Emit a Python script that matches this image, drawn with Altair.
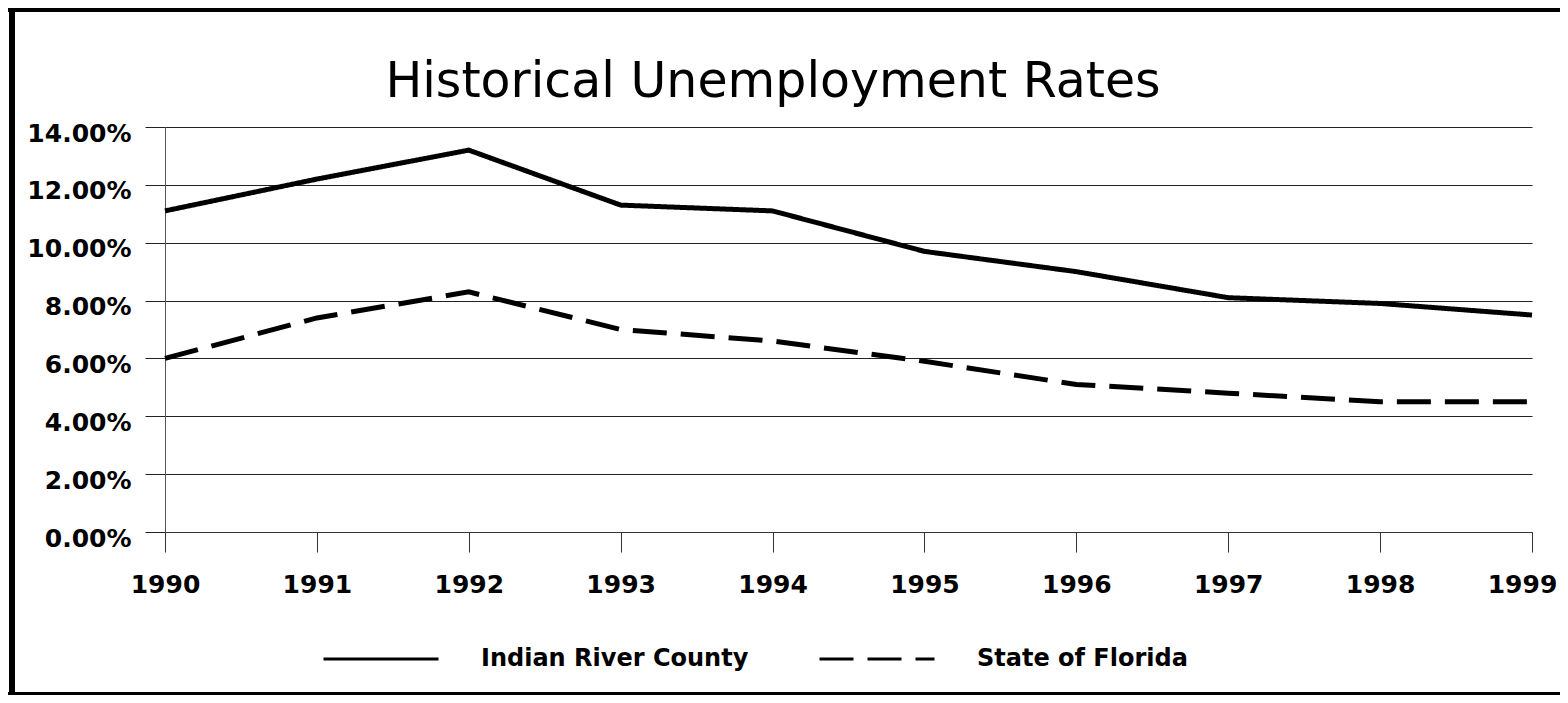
import altair as alt
import pandas as pd

# ---- data ----
years = [1990, 1991, 1992, 1993, 1994, 1995, 1996, 1997, 1998, 1999]
indian_river = [0.111, 0.122, 0.132, 0.113, 0.111, 0.097, 0.090, 0.081, 0.079, 0.075]
florida = [0.060, 0.074, 0.083, 0.070, 0.066, 0.059, 0.051, 0.048, 0.045, 0.045]
series_names = ["Indian River County", "State of Florida"]
y_ticks = [0.0, 0.02, 0.04, 0.06, 0.08, 0.10, 0.12, 0.14]
title_text = "Historical Unemployment Rates"

FONT = "DejaVu Sans, Liberation Sans, Arial, sans-serif"

df = pd.DataFrame({
    "year": years * 2,
    "rate": indian_river + florida,
    "series": [series_names[0]] * len(years) + [series_names[1]] * len(years),
})

W, H = 1367, 405
PAD_L, PAD_T, PAD_R = 157, 119, 28
TOTAL_H = 687
PAD_B = TOTAL_H - PAD_T - H

lines = alt.Chart(df).mark_line(color="black", strokeWidth=5).encode(
    x=alt.X("year:Q",
            scale=alt.Scale(domain=[1990, 1999], nice=False, zero=False),
            axis=alt.Axis(values=years, format="d", title=None, grid=False,
                          tickSize=20, tickColor="#333", domainColor="#333",
                          labelFontSize=25, labelFontWeight="bold", labelFont=FONT,
                          labelColor="black", labelPadding=20, labelFlush=False,
                          labelOffset={"condition": {"test": "datum.value == 1999", "value": -10},
                                       "value": 0})),
    y=alt.Y("rate:Q",
            scale=alt.Scale(domain=[0, 0.14], nice=False),
            axis=alt.Axis(values=y_ticks, format=".2%", title=None, grid=True,
                          gridColor="#222", gridWidth=1, tickSize=20, tickColor="#222",
                          domainColor="#555", labelFontSize=25, labelFontWeight="bold",
                          labelFont=FONT, labelColor="black", labelPadding=14,
                          labelOffset=6)),
    strokeDash=alt.StrokeDash("series:N",
                              scale=alt.Scale(domain=series_names, range=[[1, 0], [34, 14]]),
                              legend=alt.Legend(orient="none", legendX=157, legendY=473,
                                                direction="horizontal", title=None,
                                                symbolType="stroke", symbolSize=13225,
                                                symbolStrokeWidth=3, symbolStrokeColor="black",
                                                labelFontSize=24, labelFont=FONT,
                                                labelFontWeight="bold", labelColor="black",
                                                labelOffset=41, columnPadding=64,
                                                labelLimit=1000)),
)

title = alt.Chart(pd.DataFrame({"t": [title_text]})).mark_text(
    fontSize=49, font=FONT, align="center", baseline="alphabetic", color="black"
).encode(x=alt.value(608), y=alt.value(-30), text="t:N")

one = pd.DataFrame({"a": [0]})
left_border = alt.Chart(one).mark_rule(color="black", strokeWidth=6).encode(
    x=alt.value(-153), y=alt.value(-PAD_T), y2=alt.value(TOTAL_H - PAD_T))
top_border = alt.Chart(one).mark_rule(color="black", strokeWidth=4).encode(
    y=alt.value(-PAD_T + 2), x=alt.value(-PAD_L), x2=alt.value(W + PAD_R))
bottom_border = alt.Chart(one).mark_rule(color="black", strokeWidth=3).encode(
    y=alt.value(TOTAL_H - PAD_T - 1.5), x=alt.value(-PAD_L), x2=alt.value(W + PAD_R))

chart = alt.layer(left_border, top_border, bottom_border, title, lines).properties(
    width=W, height=H,
    autosize=alt.AutoSizeParams(type="none"),
    padding={"left": PAD_L, "top": PAD_T, "right": PAD_R, "bottom": PAD_B},
    background="white",
).configure_view(stroke=None)

chart.save("out.html", embed_options={"renderer": "svg", "actions": False})
